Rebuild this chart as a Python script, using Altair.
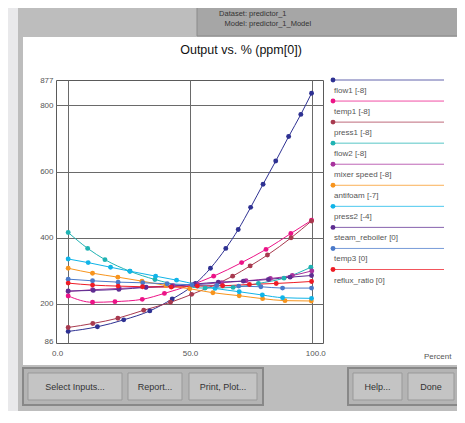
import altair as alt
import pandas as pd

# ---------------- data ----------------
NAMES = ["flow1", "temp1", "press1", "flow2", "mixer speed", "antifoam",
         "press2", "steam_reboiler", "temp3", "reflux_ratio"]
LEGEND_LABELS = ["flow1 [-8]", "temp1 [-8]", "press1 [-8]", "flow2 [-8]",
                 "mixer speed [-8]", "antifoam [-7]", "press2 [-4]",
                 "steam_reboiler [0]", "temp3 [0]", "reflux_ratio [0]"]
COLORS = ["#2e3192", "#ec1387", "#a83a4f", "#1fb3b3", "#a8339e", "#f7941d",
          "#10b4e8", "#5e2d91", "#4a79c9", "#ee1c25"]

FLOW1_X = [0, 12, 22.8, 33.5, 42.7, 52.3, 58.4, 64.7, 69.8, 74.9, 80, 85.2, 90.5, 95.5, 99.9]
FLOW1_Y = [117, 131, 152, 179, 215, 262, 308, 368, 425, 492, 562, 632, 706, 773, 837]
TEMP1_X = [0, 10, 19.2, 30.4, 39.5, 59.7, 71.2, 81.2, 91.4, 99.9]
TEMP1_Y = [224, 205, 207, 214, 232, 284, 325, 365, 413, 453]
PRESS1_X = [0, 10.1, 20.4, 31, 42, 50.7, 67.5, 74.7, 81.8, 91.5, 99.9]
PRESS1_Y = [129, 141, 157, 181, 205, 229, 284, 315, 348, 400, 451]
FLOW2_X = [0, 8, 15.1, 25.3, 35.6, 56.2, 67.7, 78.1, 88.6, 99.6]
FLOW2_Y = [416, 368, 334, 299, 274, 248, 250, 262, 278, 311]
MIXER_X = [0, 10, 21, 32, 43, 53, 63, 73, 83, 92, 100]
MIXER_Y = [238, 243, 247, 251, 255, 259, 264, 270, 277, 286, 300]
ANTIFOAM_X = [0, 10, 20.4, 30.3, 40.1, 49.9, 59.4, 70.2, 79.8, 89, 99.8]
ANTIFOAM_Y = [308, 293, 281, 269, 256, 246, 234, 225, 216, 210, 209]
PRESS2_X = [0, 8.2, 17.4, 25.4, 35.9, 44.5, 60.3, 70.2, 79.7, 88, 99.9]
PRESS2_Y = [336, 325, 311, 299, 284, 272, 247, 237, 227, 219, 217]
STEAM_X = [0, 10.3, 20.8, 31.9, 42.5, 51.8, 61.6, 71.9, 82.2, 91.1, 99.9]
STEAM_Y = [239, 241, 244, 250, 253, 260, 266, 269, 274, 281, 286]
TEMP3_X = [0, 10, 20.5, 30.6, 40.6, 50.8, 61, 70, 79.1, 88, 99.9]
TEMP3_Y = [275, 270, 266, 264, 261, 258, 256, 254, 252, 248, 248]
REFLUX_X = [0, 10, 20.5, 30.5, 42.3, 53, 63.4, 74.4, 85.4, 99.9]
REFLUX_Y = [263, 257, 254, 252, 251, 254, 255, 259, 262, 268]

Y_TICKS = [86, 200, 400, 600, 800, 877]
X_TICKS = [0, 50, 100]

XS = [FLOW1_X, TEMP1_X, PRESS1_X, FLOW2_X, MIXER_X, ANTIFOAM_X, PRESS2_X, STEAM_X, TEMP3_X, REFLUX_X]
YS = [FLOW1_Y, TEMP1_Y, PRESS1_Y, FLOW2_Y, MIXER_Y, ANTIFOAM_Y, PRESS2_Y, STEAM_Y, TEMP3_Y, REFLUX_Y]

rows = []
for i, (n, xs, ys) in enumerate(zip(NAMES, XS, YS)):
    for j, (x, y) in enumerate(zip(xs, ys)):
        rows.append({"series": n, "pct": x, "ppm": y, "idx": j})
df = pd.DataFrame(rows)
leg = pd.DataFrame({"series": NAMES, "label": LEGEND_LABELS, "rank": list(range(len(NAMES)))})

# ---------------- layout ----------------
W, H = 267, 263          # plot frame
OX, OY = 56, 80          # page position of plot origin
FONT = "Liberation Sans"
one = pd.DataFrame({"k": [0]})


def box(x0, y0, x1, y1, fill, stroke=None, sw=1):
    kw = dict(fill=fill)
    if stroke:
        kw.update(stroke=stroke, strokeWidth=sw)
    return alt.Chart(one).mark_rect(**kw).encode(
        x=alt.value(x0 - OX), x2=alt.value(x1 - OX),
        y=alt.value(y0 - OY), y2=alt.value(y1 - OY))


def label(x, y, text, size=9, align="center", color="#333333"):
    return alt.Chart(one).mark_text(text=text, fontSize=size, font=FONT, align=align,
                                    baseline="middle", color=color).encode(
        x=alt.value(x - OX), y=alt.value(y - OY))


PANEL = "#bdbdbd"
chrome = [
    box(0, 0, 18, 430, "#e9e9eb"),
    box(18, 0, 470, 37, PANEL),
    box(18, 37, 23, 365, PANEL),
    box(458, 37, 462, 365, "#a9a9a9"),
    box(462, 0, 470, 430, "#e9e9eb"),
    box(18, 365, 462, 412, PANEL),
    box(18, 412, 462, 430, "#d4d4d4"),
    box(197, 5, 458, 36, "#a6a6a6", "#8a8a8a"),
    label(247, 14, "Dataset:", 7.5, "right"),
    label(249, 14, "predictor_1", 7.5, "left"),
    label(247, 24, "Model:", 7.5, "right"),
    label(249, 24, "predictor_1_Model", 7.5, "left"),
    label(241, 50, "Output vs. % (ppm[0])", 12.5, "center", "#111111"),
    box(23, 368, 263, 405, "#b4b4b4", "#888888", 2),
    box(348, 368, 460, 405, "#b4b4b4", "#888888", 2),
    box(28, 373, 122, 400, "#c4c4c4", "#999999"),
    box(128, 373, 182, 400, "#c4c4c4", "#999999"),
    box(189, 373, 257, 400, "#c4c4c4", "#999999"),
    box(353, 373, 402, 400, "#c4c4c4", "#999999"),
    box(408, 373, 454, 400, "#c4c4c4", "#999999"),
    label(75, 387, "Select Inputs..."),
    label(155, 387, "Report..."),
    label(223, 387, "Print, Plot..."),
    label(377.5, 387, "Help..."),
    label(431, 387, "Done"),
]

color_scale = alt.Scale(domain=NAMES, range=COLORS)
xs = alt.Scale(domain=[-5, 104.6], nice=False, zero=False)
ys = alt.Scale(domain=[82, 877], nice=False, zero=False)

x_axis = alt.Axis(values=X_TICKS, format=".1f", grid=True, ticks=False, domain=False,
                  labelPadding=6, labelFontSize=8, labelFont=FONT, labelColor="#555555",
                  labelOffset={"expr": "datum.value == 0 ? -11 : (datum.value == 100 ? 3.5 : 0)"},
                  gridColor="#6a6a6a", gridOpacity=1,
                  title="Percent", titleX=395, titleY=13, titleAlign="right",
                  titleBaseline="middle", titleFontSize=8, titleFont=FONT,
                  titleFontWeight="normal", titleColor="#555555")
y_axis = alt.Axis(values=Y_TICKS, grid=True, ticks=False, domain=False, labelPadding=3,
                  labelFontSize=8, labelFont=FONT, labelColor="#555555", title=None,
                  gridColor="#6a6a6a",
                  gridOpacity={"expr": "(datum.value == 86 || datum.value == 877) ? 0 : 1"})

base = alt.Chart(df).encode(
    x=alt.X("pct:Q", scale=xs, axis=x_axis),
    y=alt.Y("ppm:Q", scale=ys, axis=y_axis),
    color=alt.Color("series:N", scale=color_scale, legend=None),
    detail="series:N",
    order="idx:Q",
)
lines = base.mark_line(interpolate="monotone", strokeWidth=1)
points = base.mark_circle(size=24, opacity=1)
main = alt.layer(lines, points)

lys = alt.Scale(domain=[0, 9], range=[0, 189.5])
lbase = alt.Chart(leg).encode(
    y=alt.Y("rank:Q", scale=lys, axis=None),
)
lcolor = alt.Color("series:N", scale=color_scale, legend=None)
legend = alt.layer(
    lbase.mark_rule(strokeWidth=1, opacity=0.75).encode(
        x=alt.value(277), x2=alt.value(388), color=lcolor),
    lbase.mark_circle(size=24, opacity=1).encode(x=alt.value(277), color=lcolor),
    lbase.mark_text(align="left", baseline="middle", dy=11, fontSize=8, font=FONT).encode(
        x=alt.value(278), text="label:N", color=alt.value("#555555")),
)

chart = alt.layer(*chrome, main, legend).resolve_scale(
    y="independent"
).properties(
    width=W, height=H,
    autosize=alt.AutoSizeParams(type="none"),
    padding={"left": 48, "top": 72, "right": 134, "bottom": 68},
    background="#ffffff",
).configure_view(stroke="#5a5a5a", strokeWidth=1)

chart.save("out.html", embed_options={"renderer": "svg", "actions": False})
